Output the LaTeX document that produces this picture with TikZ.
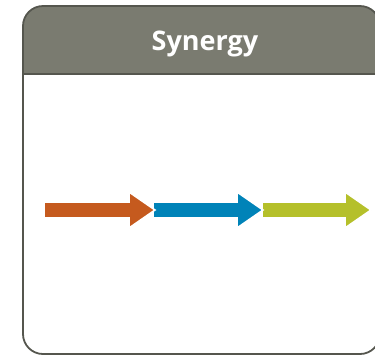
\documentclass[tikz,border=0pt]{standalone}
\usepackage{fontspec}
\setmainfont{Open Sans}
\definecolor{hdr}{HTML}{7A7B70}
\definecolor{frame}{HTML}{55564E}
\definecolor{aorange}{HTML}{C55A1E}
\definecolor{ablue}{HTML}{0083B8}
\definecolor{agreen}{HTML}{B5C02A}
\tikzset{
  arrowshape/.style={draw=white, line width=1.6pt, line join=miter},
  framebox/.style={draw=frame, line width=1.8pt, rounded corners=20pt}
}
\begin{document}
\begin{tikzpicture}[x=1pt,y=-1pt]
\useasboundingbox (0,0) rectangle (375,357);
\clip (0,0) rectangle (375,357);
% header fill
\begin{scope}
  \clip[rounded corners=20pt] (23,6) rectangle (380,354);
  \fill[hdr] (0,0) rectangle (400,74);
\end{scope}
\draw[frame, line width=1.4pt] (23,74) -- (380,74);
\draw[framebox] (23,6) rectangle (380,354);
\node[text=white, font=\bfseries\fontsize{27}{30}\selectfont] (title) at (205,44) {Synergy};
% arrows
\path[fill=agreen, arrowshape] (262,202) -- (345,202) -- (345,192) -- (371,210) -- (345,228) -- (345,218) -- (262,218) -- cycle;
\path[fill=ablue, arrowshape] (153,202) -- (237,202) -- (237,192) -- (263,210) -- (237,228) -- (237,218) -- (153,218) -- cycle;
\path[fill=aorange, arrowshape] (44,202) -- (129,202) -- (129,192) -- (155,210) -- (129,228) -- (129,218) -- (44,218) -- cycle;
\end{tikzpicture}
\end{document}
